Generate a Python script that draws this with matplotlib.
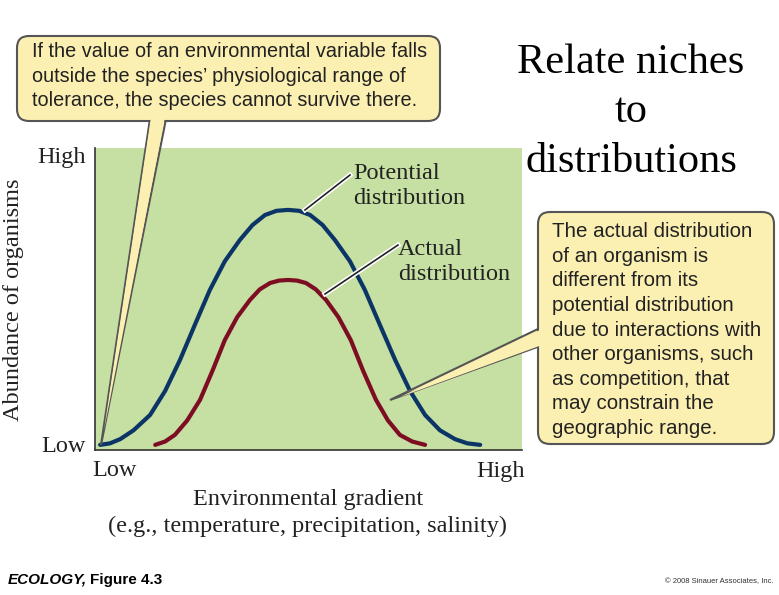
import matplotlib
matplotlib.use("Agg")
import matplotlib.pyplot as plt
from matplotlib.patches import FancyBboxPatch, Polygon

pot_x = [1.2, 3.5, 5.9, 9.0, 12.9, 16.4, 19.9, 23.4, 26.9, 30.4, 33.9, 36.9, 39.8, 42.5, 45.2,
         47.8, 50.4, 53.3, 56.2, 59.7, 63.2, 66.7, 70.3, 73.8, 77.3, 80.8, 84.3, 87.2, 90.2]
pot_y = [1.7, 2.2, 3.6, 6.5, 11.6, 19.5, 29.8, 41.5, 53.0, 62.5, 69.5, 74.5, 77.8, 79.2, 79.5,
         79.2, 77.8, 74.5, 69.5, 62.5, 53.0, 41.5, 29.8, 19.5, 11.6, 6.5, 3.6, 2.2, 1.7]
act_x = [14.1, 16.4, 18.7, 21.6, 24.6, 27.5, 30.4, 33.3, 36.3, 38.6, 41.0, 43.1, 45.2,
         47.3, 49.4, 51.7, 54.1, 57.0, 59.9, 62.8, 65.8, 68.6, 71.4, 74.3, 77.3]
act_y = [1.7, 2.8, 5.0, 9.8, 16.6, 26.2, 36.4, 44.0, 49.7, 53.2, 55.3, 56.1, 56.3,
         56.1, 55.3, 53.2, 49.7, 44.0, 36.4, 26.2, 16.6, 9.8, 5.0, 2.8, 1.7]

W, H = 779, 595
fig = plt.figure(figsize=(W/100, H/100), dpi=100)
serif = "Liberation Serif"
sans = "Liberation Sans"

ax = fig.add_axes([95/W, 1-450/H, 427/W, 302/H])
ax.set_facecolor("#c6dfa2")
ax.plot(pot_x, pot_y, color="#0b3566", lw=3, solid_capstyle="round", solid_joinstyle="round")
ax.plot(act_x, act_y, color="#7d0d22", lw=3, solid_capstyle="round", solid_joinstyle="round")
ax.set_xlim(0, 100); ax.set_ylim(0, 100)
ax.set_xticks([]); ax.set_yticks([])
for s in ["top", "right"]:
    ax.spines[s].set_visible(False)
for s in ["left", "bottom"]:
    ax.spines[s].set_color("#333333"); ax.spines[s].set_linewidth(1.2)

ov = fig.add_axes([0, 0, 1, 1], facecolor="none")
ov.set_xlim(0, W); ov.set_ylim(H, 0); ov.axis("off")

tk = dict(family=serif, fontsize=17.5, color="#222222")
ov.text(86, 157, "High", ha="right", va="center", **tk)
ov.text(86, 446, "Low", ha="right", va="center", **tk)
ov.text(92, 471, "Low", ha="left", va="center", **tk)
ov.text(525, 471, "High", ha="right", va="center", **tk)
ov.text(308, 499, "Environmental gradient", ha="center", va="center", **tk)
ov.text(308, 526, "(e.g., temperature, precipitation, salinity)", ha="center", va="center", **tk)
ov.text(14, 300, "Abundance of organisms", ha="center", va="center", rotation=90, **tk)
ov.text(353, 186, "Potential\ndistribution", ha="left", va="center", linespacing=1.2, **tk)
ov.text(398, 262, "Actual\ndistribution", ha="left", va="center", linespacing=1.2, **tk)
ov.plot([305, 350], [210, 175], color="white", lw=3.5, zorder=3)
ov.plot([305, 350], [210, 175], color="#222222", lw=1.2, zorder=4)
ov.plot([325, 398], [294, 245], color="white", lw=3.5, zorder=3)
ov.plot([325, 398], [294, 245], color="#222222", lw=1.2, zorder=4)

ov.text(631, 112, "Relate niches\nto\ndistributions", ha="center", va="center",
        family=serif, fontsize=30.5, linespacing=1.38, color="black")

yel = "#fbefb2"; edge = "#555555"
b1 = FancyBboxPatch((17, 36), 423, 85, boxstyle="round,pad=0,rounding_size=12",
                    fc=yel, ec=edge, lw=1.5, zorder=5)
ov.add_patch(b1)
ov.add_patch(Polygon([(150, 119), (166, 119), (101, 445)], closed=True, fc=yel, ec=edge, lw=1.5, zorder=4))
ov.add_patch(Polygon([(151, 117), (165, 117), (104, 430)], closed=True, fc=yel, ec="none", zorder=6))
ov.text(32, 76, "If the value of an environmental variable falls\noutside the species’ physiological range of\ntolerance, the species cannot survive there.",
        ha="left", va="center", family=sans, fontsize=14.3, linespacing=1.36, color="#222222", zorder=7)
b2 = FancyBboxPatch((538, 212), 236, 232, boxstyle="round,pad=0,rounding_size=12",
                    fc=yel, ec=edge, lw=1.5, zorder=5)
ov.add_patch(b2)
ov.add_patch(Polygon([(540, 328), (540, 346), (390, 400)], closed=True, fc=yel, ec=edge, lw=1.5, zorder=4))
ov.add_patch(Polygon([(542, 329), (542, 345), (400, 397)], closed=True, fc=yel, ec="none", zorder=6))
ov.text(552, 330, "The actual distribution\nof an organism is\ndifferent from its\npotential distribution\ndue to interactions with\nother organisms, such\nas competition, that\nmay constrain the\ngeographic range.",
        ha="left", va="center", family=sans, fontsize=14.8, linespacing=1.37, color="#222222", zorder=7)

ov.text(8, 580, "ECOLOGY,", ha="left", va="center", family=sans, fontsize=11, fontweight="bold", fontstyle="italic")
ov.text(90, 580, "Figure 4.3", ha="left", va="center", family=sans, fontsize=11, fontweight="bold")
ov.text(774, 582, "© 2008 Sinauer Associates, Inc.", ha="right", va="center", family=sans, fontsize=5.5, color="#333333")

fig.savefig("out.png", dpi=100)
